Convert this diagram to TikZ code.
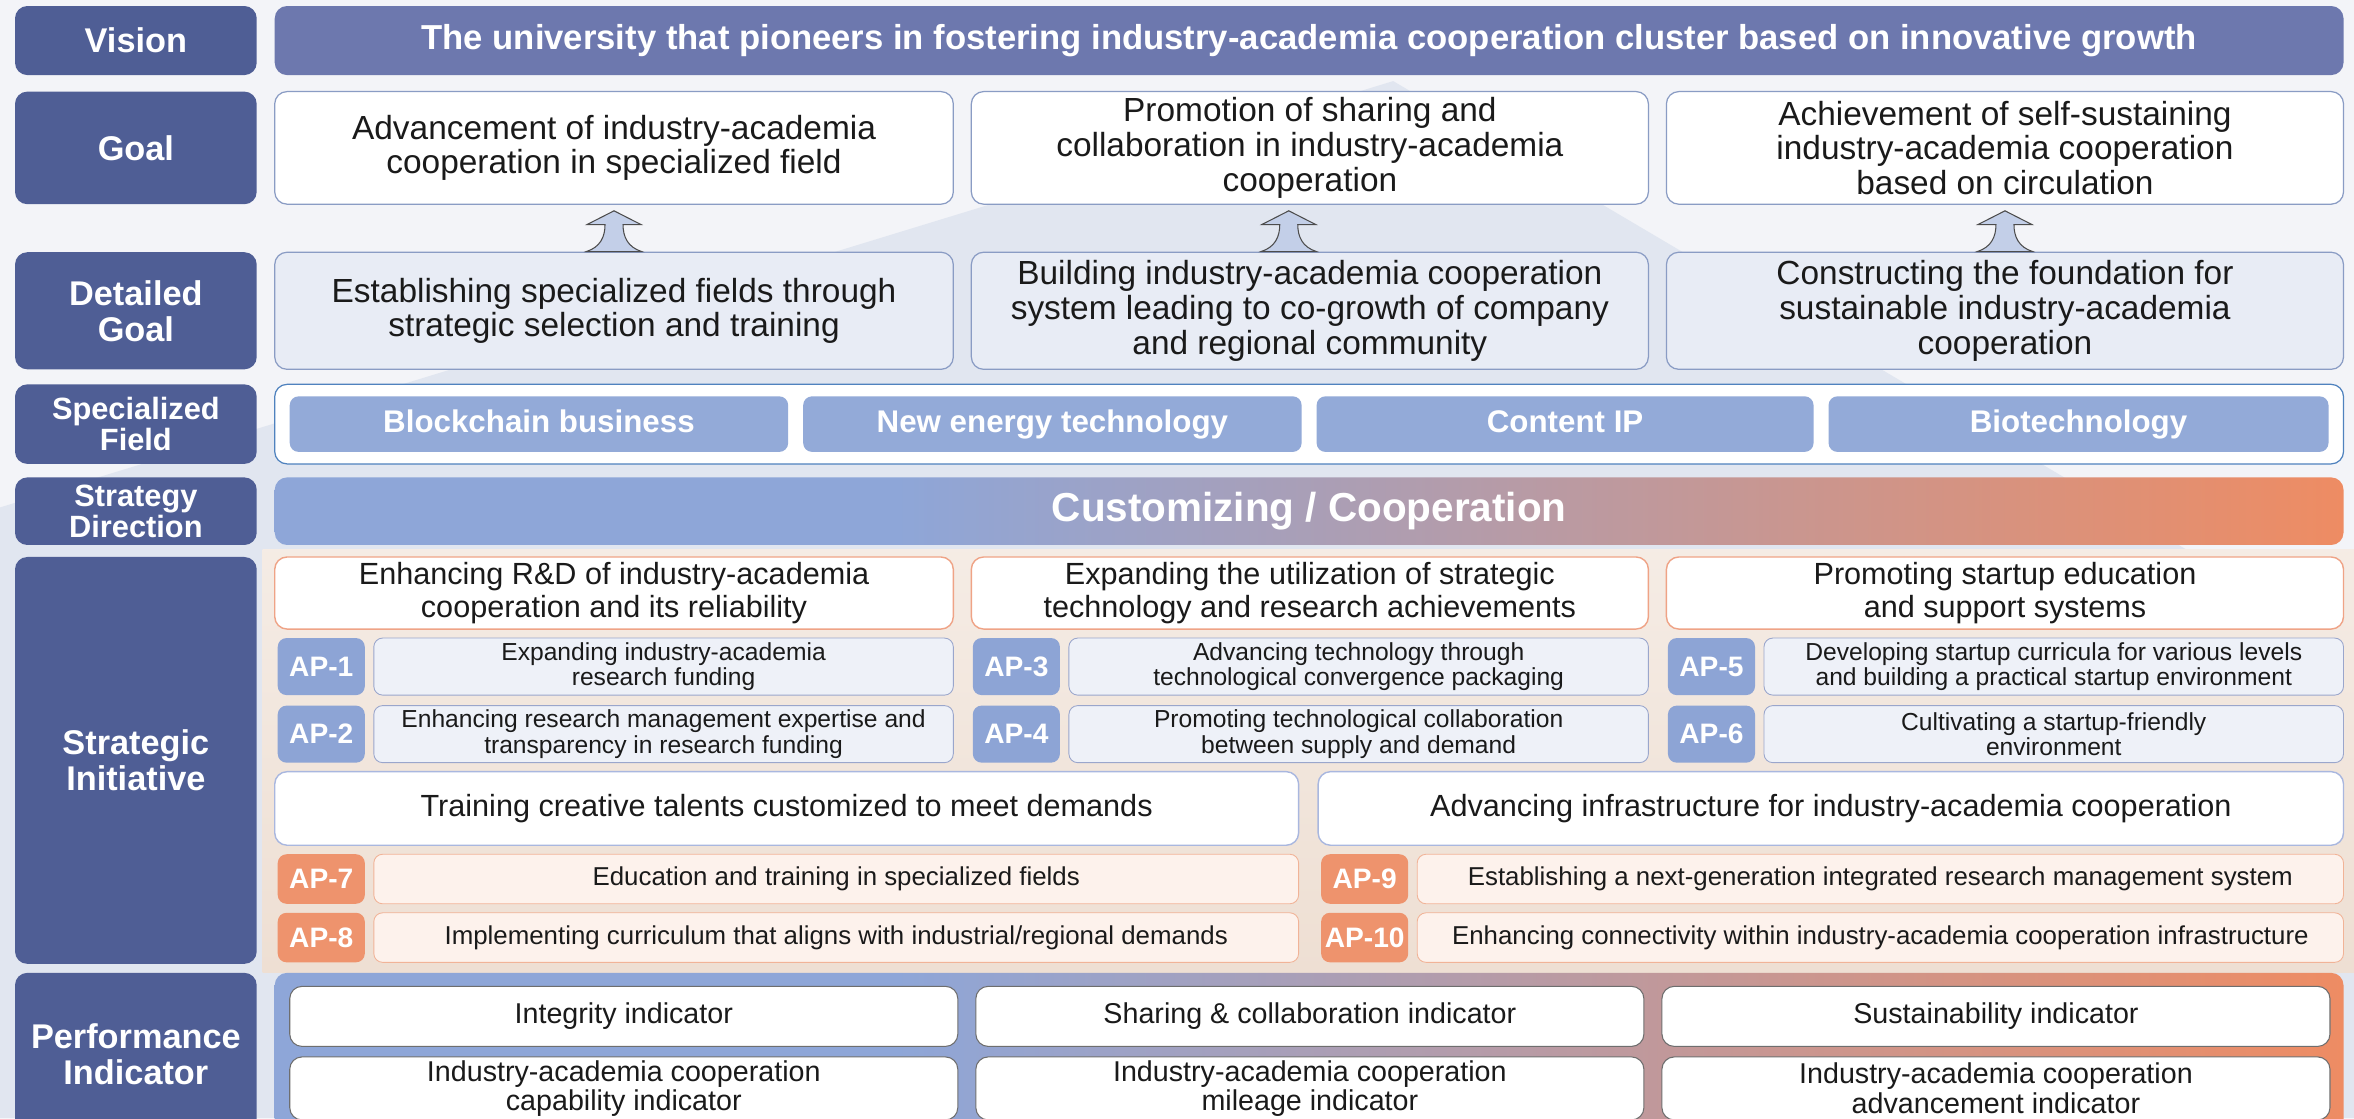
\documentclass[tikz,border=0pt]{standalone}
\usepackage{fontspec}
\setmainfont{Liberation Sans}
\usetikzlibrary{calc}

\definecolor{labelblue}{HTML}{4F5E95}
\definecolor{visionblue}{HTML}{6D78AE}
\definecolor{goalline}{HTML}{8A9CC4}
\definecolor{detailfill}{HTML}{E8ECF5}
\definecolor{pillblue}{HTML}{93AAD8}
\definecolor{fieldline}{HTML}{4F82BE}
\definecolor{apblue}{HTML}{8DA4D5}
\definecolor{apfill}{HTML}{EEF1F8}
\definecolor{apline}{HTML}{9AA6CC}
\definecolor{aporange}{HTML}{EE936D}
\definecolor{apofill}{HTML}{FDF2EC}
\definecolor{apoline}{HTML}{F1B397}
\definecolor{headline}{HTML}{EFA386}
\definecolor{headline2}{HTML}{A9B7DF}
\definecolor{perfline}{HTML}{6E6E6E}
\definecolor{sblue}{HTML}{8EA6D8}
\definecolor{sorange}{HTML}{EE8C63}
\definecolor{bgpale}{HTML}{F3F4F8}
\definecolor{pyramid}{HTML}{E1E6F0}
\definecolor{photo}{HTML}{EEDFD3}
\definecolor{arrowfill}{HTML}{C3CFE8}
\definecolor{ink}{HTML}{1A1A1A}

\pgfdeclarehorizontalshading{bandshade}{100bp}{color(0bp)=(sblue); color(25bp)=(sblue); color(40bp)=(sblue); color(75bp)=(sorange); color(100bp)=(sorange)}

\tikzset{
  area/.style args={#1,#2,#3,#4}{at={({(#1+#3)/2},{(#2+#4)/2})}, minimum width={(#3-#1)*0.03cm}, minimum height={(#4-#2)*0.03cm}},
  box/.style={rectangle, rounded corners=7pt, inner sep=0pt, align=center, text=ink},
  rowlabel/.style={box, fill=labelblue, text=white, font=\bfseries\fontsize{19.5}{20.5}\selectfont},
  smalllabel/.style={rowlabel, font=\bfseries\fontsize{17.5}{16}\selectfont},
  visionbar/.style={box, fill=visionblue, text=white, font=\bfseries\fontsize{19.7}{21}\selectfont},
  goalbox/.style={box, fill=white, draw=goalline, line width=0.7pt, font=\fontsize{19}{19.8}\selectfont},
  detailbox/.style={goalbox, fill=detailfill},
  fieldframe/.style={box, fill=white, draw=fieldline, line width=0.7pt},
  fieldpill/.style={box, rounded corners=5pt, fill=pillblue, text=white, text height=13pt, text depth=4pt, font=\bfseries\fontsize{17.8}{18}\selectfont},
  bandbar/.style={box, shading=bandshade, text=white, font=\bfseries\fontsize{23}{24}\selectfont},
  headbox/.style={box, fill=white, draw=headline, line width=0.8pt, font=\fontsize{17.4}{18.8}\selectfont},
  headbox2/.style={headbox, draw=headline2},
  apbadge/.style={box, rounded corners=5pt, fill=apblue, text=white, font=\bfseries\fontsize{16}{16}\selectfont},
  aptext/.style={box, rounded corners=5pt, fill=apfill, draw=apline, line width=0.5pt, font=\fontsize{14}{14.5}\selectfont},
  apbadgeo/.style={apbadge, fill=aporange},
  aptexto/.style={aptext, fill=apofill, draw=apoline, font=\fontsize{14.7}{15}\selectfont},
  perfframe/.style={box, shading=bandshade},
  perfbox/.style={box, fill=white, draw=perfline, line width=0.6pt, font=\fontsize{16.3}{16.8}\selectfont},
  blockup/.style={draw=black!70, fill=arrowfill, line width=0.6pt,
    to path={($(\tikztostart)+(-18.5,0)$) .. controls ($(\tikztostart)+(-9,-3)$) and ($(\tikztostart)+(-6,-10)$) .. ($(\tikztostart)+(-6,-18)$)
      -- ($(\tikztostart)+(-18,-18)$) -- ($(\tikztotarget)+(0,4)$) -- ($(\tikztostart)+(18,-18)$) -- ($(\tikztostart)+(6,-18)$)
      .. controls ($(\tikztostart)+(6,-10)$) and ($(\tikztostart)+(9,-3)$) .. ($(\tikztostart)+(18.5,0)$) -- cycle}}
}

\begin{document}
\begin{tikzpicture}[x=0.03cm, y=-0.03cm]
\path[use as bounding box, clip] (0,0) rectangle (1568,745);

% background
\fill[bgpale] (0,0) rectangle (1568,745);
\fill[pyramid] (928,54) -- (1568,432) -- (1568,745) -- (0,745) -- (0,338) -- cycle;
\fill[top color=photo!60, bottom color=photo] (175,366) rectangle (1568,648);

% row labels
\node[rowlabel, area={10,4,171,50}] (lvision) {Vision};
\node[rowlabel, area={10,61,171,136}] (lgoal) {Goal};
\node[rowlabel, area={10,168,171,246}] (ldetail) {Detailed\\Goal};
\node[smalllabel, area={10,256,171,309}] (lfield) {Specialized\\Field};
\node[smalllabel, area={10,318,171,363}] (ldirection) {Strategy\\Direction};
\node[rowlabel, area={10,371,171,642}] (linitiative) {Strategic\\Initiative};
\node[rowlabel, area={10,648,171,756}] (lperformance) {Performance\\Indicator};

% vision
\node[visionbar, area={183,4,1561,50}] (vision) {The university that pioneers in fostering industry-academia cooperation cluster based on innovative growth};

% goals
\node[goalbox, area={183,61,635,136}] (g1) {Advancement of industry-academia\\cooperation in specialized field};
\node[goalbox, area={647,61,1098,136}] (g2) {Promotion of sharing and\\collaboration in industry-academia\\cooperation};
\node[goalbox, area={1110,61,1561,136}] (g3) {Achievement of self-sustaining\\industry-academia cooperation\\based on circulation};

% detailed goals
\node[detailbox, area={183,168,635,246}] (d1) {Establishing specialized fields through\\strategic selection and training};
\node[detailbox, area={647,168,1098,246}] (d2) {Building industry-academia cooperation\\system leading to co-growth of company\\and regional community};
\node[detailbox, area={1110,168,1561,246}] (d3) {Constructing the foundation for\\sustainable industry-academia\\cooperation};

\draw[blockup] (d1.north) to (g1.south);
\draw[blockup] ([xshift=-12pt]d2.north) to ([xshift=-12pt]g2.south);
\draw[blockup] (d3.north) to (g3.south);

% specialized fields
\node[fieldframe, area={183,256,1561,309}] (fields) {};
\node[fieldpill, area={193,264,525,301}] (f1) {Blockchain business};
\node[fieldpill, area={535,264,867,301}] (f2) {New energy technology};
\node[fieldpill, area={877,264,1208,301}] (f3) {Content IP};
\node[fieldpill, area={1218,264,1551,301}] (f4) {Biotechnology};

% strategy direction
\node[bandbar, area={183,318,1561,363}] (direction) {Customizing / Cooperation};

% strategic initiatives, upper block
\node[headbox, area={183,371,635,419}] (s1) {Enhancing R\&D of industry-academia\\cooperation and its reliability};
\node[headbox, area={647,371,1098,419}] (s2) {Expanding the utilization of strategic\\technology and research achievements};
\node[headbox, area={1110,371,1561,419}] (s3) {Promoting startup education\\and support systems};

\node[apbadge, area={185,425,243,463}] (ap1) {AP-1};
\node[aptext, area={249,425,635,463}] (t1) {Expanding industry-academia\\research funding};
\node[apbadge, area={185,470,243,508}] (ap2) {AP-2};
\node[aptext, area={249,470,635,508}] (t2) {Enhancing research management expertise and\\transparency in research funding};
\node[apbadge, area={648,425,706,463}] (ap3) {AP-3};
\node[aptext, area={712,425,1098,463}] (t3) {Advancing technology through\\technological convergence packaging};
\node[apbadge, area={648,470,706,508}] (ap4) {AP-4};
\node[aptext, area={712,470,1098,508}] (t4) {Promoting technological collaboration\\between supply and demand};
\node[apbadge, area={1111,425,1169,463}] (ap5) {AP-5};
\node[aptext, area={1175,425,1561,463}] (t5) {Developing startup curricula for various levels\\and building a practical startup environment};
\node[apbadge, area={1111,470,1169,508}] (ap6) {AP-6};
\node[aptext, area={1175,470,1561,508}] (t6) {Cultivating a startup-friendly\\environment};

% strategic initiatives, lower block
\node[headbox2, area={183,514,865,563}] (s4) {Training creative talents customized to meet demands};
\node[headbox2, area={878,514,1561,563}] (s5) {Advancing infrastructure for industry-academia cooperation};

\node[apbadgeo, area={185,569,243,602}] (ap7) {AP-7};
\node[aptexto, area={249,569,865,602}] (t7) {Education and training in specialized fields};
\node[apbadgeo, area={185,608,243,641}] (ap8) {AP-8};
\node[aptexto, area={249,608,865,641}] (t8) {Implementing curriculum that aligns with industrial/regional demands};
\node[apbadgeo, area={880,569,938,602}] (ap9) {AP-9};
\node[aptexto, area={944,569,1561,602}] (t9) {Establishing a next-generation integrated research management system};
\node[apbadgeo, area={880,608,938,641}] (ap10) {AP-10};
\node[aptexto, area={944,608,1561,641}] (t10) {Enhancing connectivity within industry-academia cooperation infrastructure};

% performance indicators
\node[perfframe, area={183,648,1561,770}] (perf) {};
\node[perfbox, area={193,657,638,697}] (p1) {Integrity indicator};
\node[perfbox, area={650,657,1095,697}] (p2) {Sharing \& collaboration indicator};
\node[perfbox, area={1107,657,1552,697}] (p3) {Sustainability indicator};
\node[perfbox, area={193,704,638,746}] (p4) {Industry-academia cooperation\\capability indicator};
\node[perfbox, area={650,704,1095,746}] (p5) {Industry-academia cooperation\\mileage indicator};
\node[perfbox, area={1107,704,1552,746}] (p6) {Industry-academia cooperation\\advancement indicator};
\end{tikzpicture}
\end{document}
